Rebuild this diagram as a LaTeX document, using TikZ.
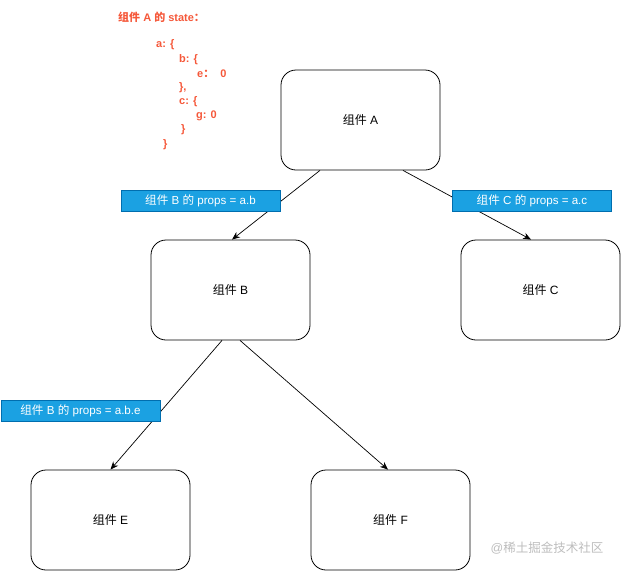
\documentclass[tikz,border=0pt]{standalone}
\usepackage{fontspec}
\setmainfont{Liberation Sans}
\newfontfamily\cjk{Noto Sans CJK SC}
\usetikzlibrary{arrows.meta}
\definecolor{stateorange}{HTML}{F5583A}
\definecolor{propsblue}{HTML}{1BA1E2}
\definecolor{propsline}{HTML}{006EAF}
\definecolor{markgray}{HTML}{BDBDBD}
\tikzset{
  comp/.style={draw, rounded corners=15pt, minimum width=159pt, minimum height=100pt,
               line width=0.8pt, font=\fontsize{12}{14}\selectfont},
  props/.style={draw=propsline, fill=propsblue, text=white, minimum width=159pt,
                minimum height=21pt, inner sep=0pt, font=\fontsize{11.6}{13}\selectfont},
  link/.style={-{Stealth[length=8pt,width=6.5pt]}, line width=0.7pt},
  statetext/.style={anchor=west, inner sep=0pt, text=stateorange,
                    font=\bfseries\fontsize{11}{13}\selectfont}
}
\begin{document}
\begin{tikzpicture}[x=1pt, y=-1pt]
  \useasboundingbox (0,0) rectangle (621,571);

  \node[statetext] (st0) at (118,17)  {{\cjk 组件} A {\cjk 的} state{\cjk ：}};
  \node[statetext] (st1) at (156,45)  {a: \{};
  \node[statetext] (st2) at (179,60)  {b: \{};
  \node[statetext] (st3) at (197,74)  {e{\cjk ：}\hspace{6pt}0};
  \node[statetext] (st4) at (179,88)  {\},};
  \node[statetext] (st5) at (179,102) {c: \{};
  \node[statetext] (st6) at (196,116) {g: 0};
  \node[statetext] (st7) at (181,130) {\}};
  \node[statetext] (st8) at (163,145) {\}};

  \node[comp] (A) at (360.5,120) {{\cjk 组件} A};
  \node[comp] (B) at (230.5,290) {{\cjk 组件} B};
  \node[comp] (C) at (540.5,290) {{\cjk 组件} C};
  \node[comp] (E) at (110.5,520) {{\cjk 组件} E};
  \node[comp] (F) at (390.5,520) {{\cjk 组件} F};

  \draw[link] ([xshift=-40.5pt]A.south) -- ([xshift=1.5pt]B.north);
  \draw[link] ([xshift=42.5pt]A.south) -- ([xshift=-9.5pt]C.north);
  \draw[link] ([xshift=-8.5pt]B.south) -- (E.north);
  \draw[link] ([xshift=9.5pt]B.south) -- ([xshift=-2.5pt]F.north);

  \node[props] (pb)  at (200.5,200.5) {{\cjk 组件} B {\cjk 的} props = a.b};
  \node[props] (pc)  at (532,200.5)   {{\cjk 组件} C {\cjk 的} props = a.c};
  \node[props] (pbe) at (80.5,410.5)  {{\cjk 组件} B {\cjk 的} props = a.b.e};

  \node[text=markgray, font=\fontsize{12.5}{14}\selectfont] (mark) at (547,548) {@{\cjk 稀土掘金技术社区}};
\end{tikzpicture}
\end{document}
